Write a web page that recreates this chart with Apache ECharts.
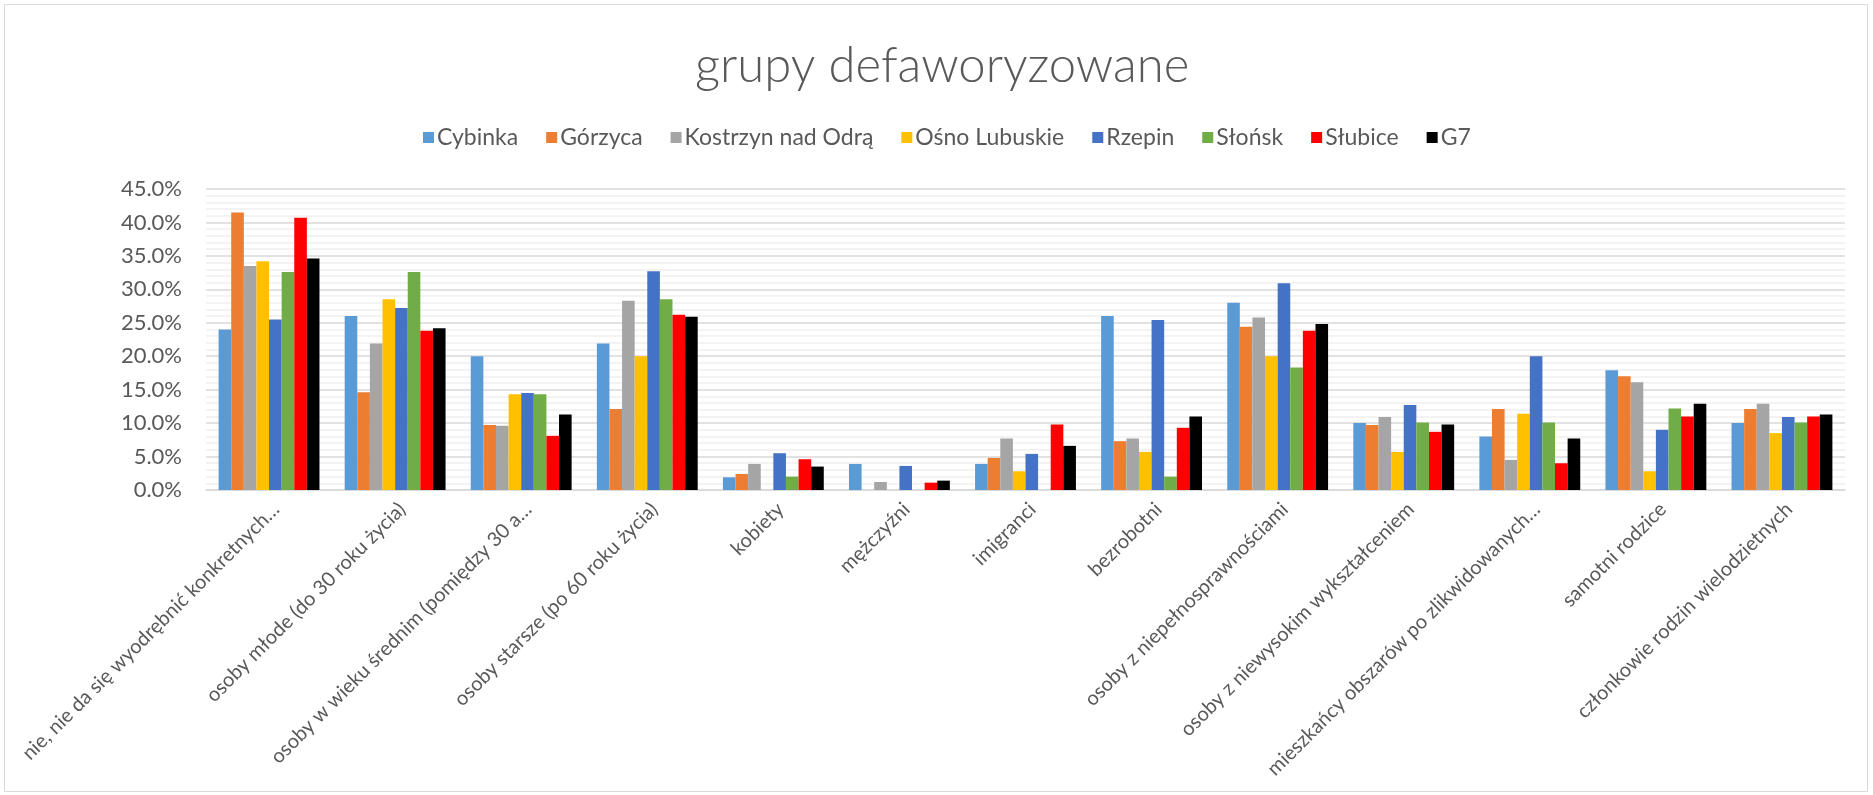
<!DOCTYPE html>
<html>
<head>
<meta charset="utf-8">
<script src="https://cdn.jsdelivr.net/npm/echarts@6/dist/echarts.min.js"></script>
<style>
html,body{margin:0;padding:0;background:#fff;}
#chart{width:1873px;height:795px;}
</style>
</head>
<body>
<div id="chart"></div>
<script>
const categories = [
  'nie, nie da się wyodrębnić konkretnych…',
  'osoby młode (do 30 roku życia)',
  'osoby w wieku średnim (pomiędzy 30 a…',
  'osoby starsze (po 60 roku życia)',
  'kobiety',
  'mężczyźni',
  'imigranci',
  'bezrobotni',
  'osoby z niepełnosprawnościami',
  'osoby z niewysokim wykształceniem',
  'mieszkańcy obszarów po zlikwidowanych…',
  'samotni rodzice',
  'członkowie rodzin wielodzietnych'
];
const seriesNames = ['Cybinka', 'Górzyca', 'Kostrzyn nad Odrą', 'Ośno Lubuskie', 'Rzepin', 'Słońsk', 'Słubice', 'G7'];
const cybinka   = [24.0, 26.0, 20.0, 21.9, 1.9, 3.9, 3.9, 26.0, 28.0, 10.0, 8.0, 17.9, 10.0];
const gorzyca   = [41.5, 14.6, 9.7, 12.1, 2.4, 0, 4.8, 7.3, 24.4, 9.7, 12.1, 17.0, 12.1];
const kostrzyn  = [33.5, 21.9, 9.6, 28.3, 3.9, 1.2, 7.7, 7.7, 25.8, 10.9, 4.5, 16.1, 12.9];
const osno      = [34.2, 28.5, 14.3, 20.0, 0, 0, 2.8, 5.7, 20.0, 5.7, 11.4, 2.8, 8.5];
const rzepin    = [25.5, 27.2, 14.5, 32.7, 5.5, 3.6, 5.4, 25.4, 30.9, 12.7, 20.0, 9.0, 10.9];
const slonsk    = [32.6, 32.6, 14.3, 28.5, 2.0, 0, 0, 2.0, 18.3, 10.1, 10.1, 12.2, 10.1];
const slubice   = [40.7, 23.8, 8.1, 26.2, 4.6, 1.1, 9.8, 9.3, 23.8, 8.7, 4.0, 11.0, 11.0];
const g7        = [34.6, 24.2, 11.3, 25.9, 3.5, 1.4, 6.6, 11.0, 24.8, 9.8, 7.7, 12.9, 11.3];
const seriesValues = [cybinka, gorzyca, kostrzyn, osno, rzepin, slonsk, slubice, g7];
const colors = ['#5B9BD5', '#ED7D31', '#A5A5A5', '#FFC000', '#4472C4', '#70AD47', '#FF0000', '#000000'];

const FONT = 'Lato, "Open Sans", sans-serif';
const chart = echarts.init(document.getElementById('chart'), null, {renderer: 'canvas'});
chart.setOption({
  animation: false,
  backgroundColor: '#ffffff',
  color: colors,
  title: {
    text: 'grupy defaworyzowane',
    left: 690,
    top: 37,
    textStyle: {fontFamily: FONT, fontWeight: 300, fontSize: 49, color: '#595959'}
  },
  legend: {
    top: 121,
    left: 418,
    icon: 'rect',
    itemWidth: 11,
    itemHeight: 11,
    itemGap: 28,
    textStyle: {fontFamily: FONT, fontSize: 23, color: '#595959', padding: [0, 0, 0, -2]},
    data: seriesNames
  },
  graphic: [{
    type: 'rect',
    shape: {x: 4.5, y: 4.5, width: 1863, height: 787},
    style: {fill: 'none', stroke: '#d9d9d9', lineWidth: 1},
    silent: true
  }],
  grid: {left: 206, right: 28, top: 189, bottom: 305, containLabel: false},
  xAxis: {
    type: 'category',
    data: categories,
    axisLine: {show: true, lineStyle: {color: '#d9d9d9', width: 1.5}},
    axisTick: {show: false},
    axisLabel: {
      interval: 0,
      rotate: 45,
      margin: 9,
      verticalAlign: 'top',
      fontFamily: FONT,
      fontSize: 20,
      color: '#595959'
    }
  },
  yAxis: {
    type: 'value',
    min: 0,
    max: 45,
    interval: 5,
    axisLine: {show: false},
    axisTick: {show: false},
    axisLabel: {
      margin: 24,
      fontFamily: FONT,
      fontSize: 22,
      color: '#595959',
      formatter: v => v.toFixed(1) + '%'
    },
    splitLine: {show: true, lineStyle: {color: '#d9d9d9', width: 1.5}},
    minorTick: {show: false, splitNumber: 5},
    minorSplitLine: {show: true, lineStyle: {color: '#efefef', width: 1.5}}
  },
  series: seriesNames.map((name, i) => ({
    name: name,
    type: 'bar',
    data: seriesValues[i],
    barGap: '0%',
    barCategoryGap: '20%',
    itemStyle: {color: colors[i]}
  }))
});
</script>
</body>
</html>
